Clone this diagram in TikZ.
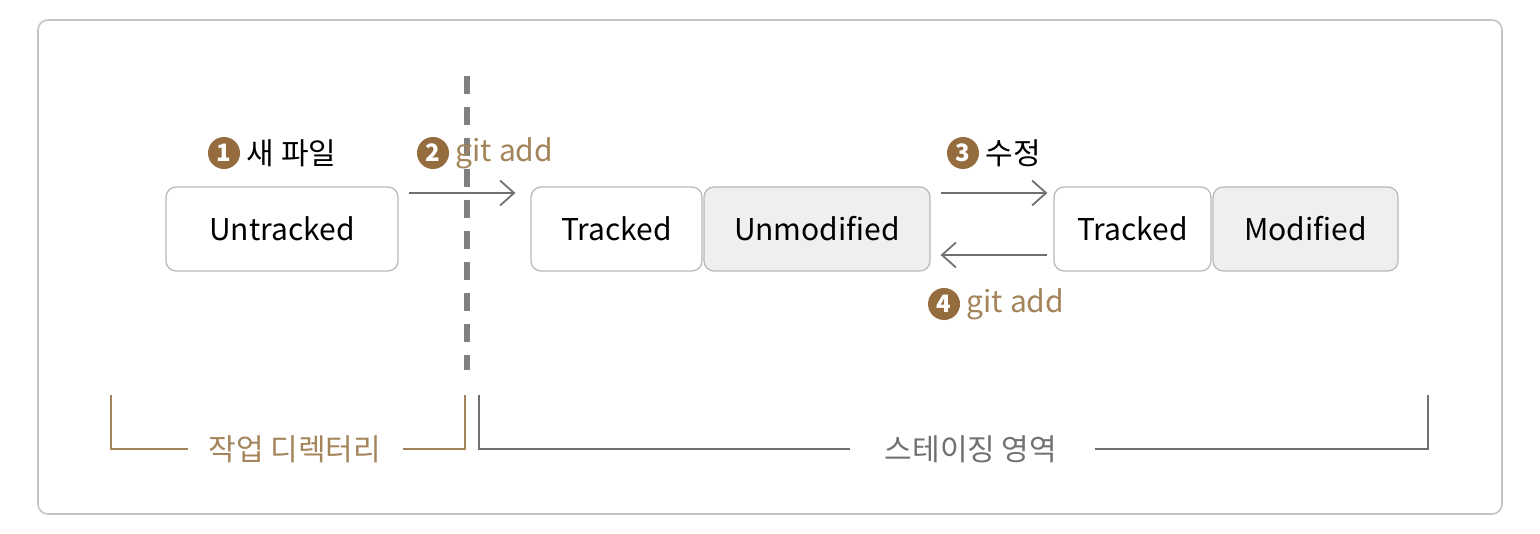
\documentclass[tikz,border=0pt]{standalone}
\usepackage{fontspec}
\setmainfont{Noto Sans CJK KR}
\usetikzlibrary{arrows.meta,positioning}
\definecolor{frameline}{HTML}{C4C4C4}
\definecolor{boxline}{HTML}{B8B8B8}
\definecolor{cellgray}{HTML}{EFEFEF}
\definecolor{arrowgray}{HTML}{707070}
\definecolor{dashgray}{HTML}{808080}
\definecolor{bronze}{HTML}{946C3E}
\definecolor{bronzetext}{HTML}{A4845A}

\begin{document}
\begin{tikzpicture}[
  x=0.5pt, y=-0.5pt,
  every node/.style={font=\fontsize{15pt}{18pt}\selectfont},
  statebox/.style={rectangle, rounded corners=5pt, draw=boxline, line width=0.6pt, fill=white, minimum height=42pt, inner sep=0pt},
  grayedbox/.style={statebox, fill=cellgray},
  numbadge/.style={circle, fill=bronze, text=white, inner sep=0pt, minimum size=16pt, font=\fontsize{12pt}{12pt}\selectfont\bfseries},
  flow/.style={draw=arrowgray, line width=0.9pt, -{Straight Barb[length=7pt,width=12.5pt,line width=0.9pt]}},
]
\useasboundingbox (0,0) rectangle (1540,534);

% outer frame
\draw[frameline, line width=0.8pt, rounded corners=5pt] (38,20) rectangle (1502,514);

% border between working directory and staging area
\draw[dashgray, line width=3pt, dash pattern=on 9pt off 6.5pt] (467,76) -- (467,370);

% file states
\node[statebox, minimum width=116pt] (untracked) at (282,229) {Untracked};
\node[statebox, minimum width=85.5pt] (tracked) at (616.5,229) {Tracked};
\node[grayedbox, minimum width=113pt] (unmodified) at (817,229) {Unmodified};
\node[statebox, minimum width=78.5pt] (trackedmod) at (1132.5,229) {Tracked};
\node[grayedbox, minimum width=92.5pt] (modified) at (1305.5,229) {Modified};

% transitions
\draw[flow] ([xshift=5pt,yshift=18pt]untracked.east) -- ([xshift=-7.5pt,yshift=18pt]tracked.west);
\draw[flow] ([xshift=5pt,yshift=18pt]unmodified.east) -- ([xshift=-3pt,yshift=18pt]trackedmod.west);
\draw[flow] ([xshift=-3pt,yshift=-13pt]trackedmod.west) -- ([xshift=5pt,yshift=-13pt]unmodified.east);

% step labels
\node[numbadge] (n1) at (224,153) {1};
\node[right=3pt of n1, inner sep=0pt] (newfile) {새 파일};
\node[numbadge] (n2) at (433,153) {2};
\node[right=3pt of n2, inner sep=0pt, text=bronzetext] (add1) {git add};
\node[numbadge] (n3) at (963,153) {3};
\node[right=3pt of n3, inner sep=0pt] (edit) {수정};
\node[numbadge] (n4) at (944,304) {4};
\node[right=3pt of n4, inner sep=0pt, text=bronzetext] (add2) {git add};

% areas
\node[text=bronzetext] (workdir) at (295,449) {작업 디렉터리};
\draw[bronzetext, line width=0.9pt] (111,395) |- (188,449);
\draw[bronzetext, line width=0.9pt] (403,449) -| (465,395);
\node[text=arrowgray] (staging) at (971,449) {스테이징 영역};
\draw[arrowgray, line width=0.9pt] (479,395) |- (850,449);
\draw[arrowgray, line width=0.9pt] (1095,449) -| (1428,395);

\end{tikzpicture}
\end{document}
